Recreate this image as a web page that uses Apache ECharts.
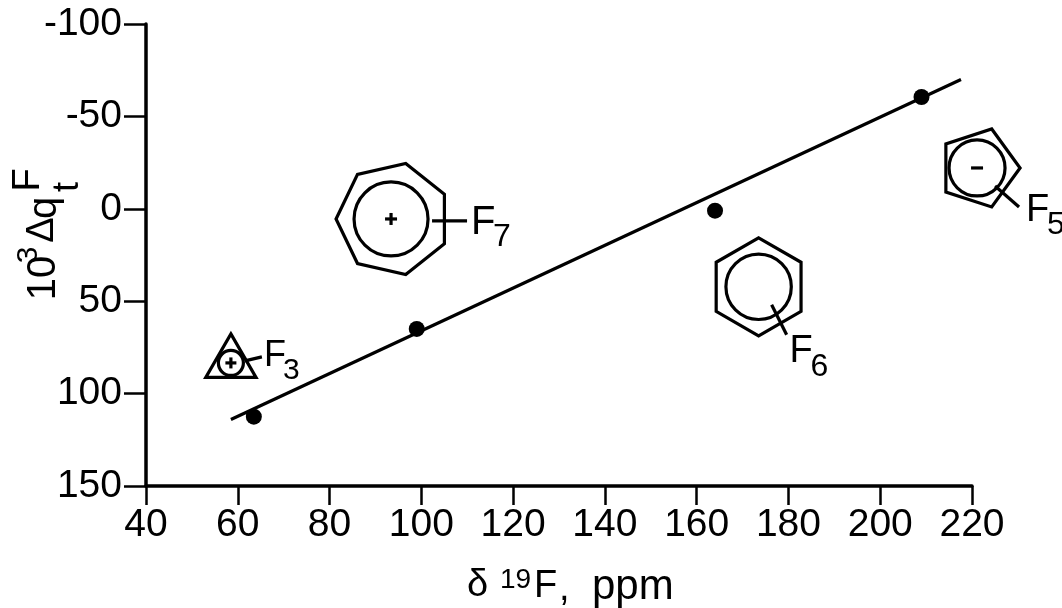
<!DOCTYPE html>
<html><head><meta charset="utf-8">
<style>html,body{margin:0;padding:0;background:#fff}#c{width:1062px;height:608px}</style>
<script src="https://cdn.jsdelivr.net/npm/echarts@6/dist/echarts.min.js"></script>
</head><body><div id="c"></div>
<script>
const xTicks=[40,60,80,100,120,140,160,180,200,220];
const yTicks=[-100,-50,0,50,100,150];
const points=[[63.5,112.5],[99,65],[164,1],[209,-60.5]];
const fitLine=[[58.5,114],[217.6,-70]];
const ringCenters=[[58.5,83.4],[93.4,5.5],[173.5,42.2],[221.1,-22.1]];
const ringNames=['F3','F7','F6','F5'];
const ringSides=[3,7,6,5];
// pixel styling of each ring glyph (not data)
const glyph={
 F3:{R:29,dx:0,r:12.5,rot:-90,lead:[[14,-2],[31,-6]],cross:5.5,f:[33,-7,36],s:[52,8,30]},
 F7:{R:57,dx:2,r:37,rot:180,lead:[[41,2],[76,2]],cross:6,f:[80,4,40],s:[102,18,32]},
 F6:{R:49,dx:0,r:32.7,rot:-90,lead:[[13,18],[28,48]],f:[31,65,38],s:[52,80,32]},
 F5:{R:41,dx:2,r:28,rot:0,lead:[[18,18],[42,39]],dash:6,f:[49,43,38],s:[70,57,32]}
};
const ink='#000';
const face='"Liberation Sans"';
const chart=echarts.init(document.getElementById('c'),null,{renderer:'canvas'});
function renderRing(p,api){
 const i=p.dataIndex,name=ringNames[i],g=glyph[name],c=api.coord([api.value(0),api.value(1)]);
 const cx=c[0],cy=c[1],pts=[],n=ringSides[i];
 for(let k=0;k<n;k++){const a=(g.rot+k*360/n)*Math.PI/180;pts.push([cx+g.dx+g.R*Math.cos(a),cy+g.R*Math.sin(a)]);}
 const st={stroke:ink,lineWidth:3.2,fill:null};
 const kids=[
  {type:'polygon',shape:{points:pts},style:st},
  {type:'circle',shape:{cx,cy,r:g.r},style:st},
  {type:'line',shape:{x1:cx+g.lead[0][0],y1:cy+g.lead[0][1],x2:cx+g.lead[1][0],y2:cy+g.lead[1][1]},style:st}
 ];
 if(g.cross)kids.push({type:'line',shape:{x1:cx-g.cross,y1:cy,x2:cx+g.cross,y2:cy},style:st},{type:'line',shape:{x1:cx,y1:cy-g.cross,x2:cx,y2:cy+g.cross},style:st});
 if(g.dash)kids.push({type:'line',shape:{x1:cx-g.dash,y1:cy,x2:cx+g.dash,y2:cy},style:st});
 kids.push({type:'text',x:cx+g.f[0],y:cy+g.f[1],style:{text:'F',fontSize:g.f[2],fontFamily:face,fill:ink,align:'left',verticalAlign:'middle'}});
 kids.push({type:'text',x:cx+g.s[0],y:cy+g.s[1],style:{text:name[1],fontSize:g.s[2],fontFamily:face,fill:ink,align:'left',verticalAlign:'middle'}});
 return {type:'group',children:kids};
}
function rot(text,x,y,size){return {type:'text',x,y,rotation:Math.PI/2,style:{text,fontSize:size,fontFamily:face,fill:ink,align:'center',verticalAlign:'middle'}};}
function flat(text,x,y,size,fam){return {type:'text',x,y,style:{text,fontSize:size,fontFamily:fam||face,fill:ink,align:'left',verticalAlign:'middle'}};}
chart.setOption({
 animation:false,
 backgroundColor:'#fff',
 grid:{left:146,top:24,right:90,bottom:122},
 xAxis:{type:'value',min:40,max:220,interval:20,
  axisLine:{onZero:false,lineStyle:{color:ink,width:3.5}},
  axisTick:{inside:false,length:19,lineStyle:{color:ink,width:2.5}},
  axisLabel:{fontSize:39,fontFamily:face,color:ink,margin:20,customValues:xTicks},
  splitLine:{show:false}},
 yAxis:{type:'value',inverse:true,min:-100,max:150,interval:50,
  axisLine:{onZero:false,lineStyle:{color:ink,width:3.5}},
  axisTick:{inside:false,length:22,lineStyle:{color:ink,width:2.5}},
  axisLabel:{fontSize:39,fontFamily:face,color:ink,margin:24,padding:[4,0,0,0],customValues:yTicks},
  splitLine:{show:false}},
 graphic:[
  rot('10',44,278,40),rot('3',29,255,30),rot('Δ',43,230,38),rot('q',45,208,40),rot('F',29,180,38),rot('t',68,187,36),
  flat('δ',467,586,38),flat('19',500,580,28),flat('F',534,587,38),flat(',',559,590,38),flat('ppm',592,587,42)
 ],
 series:[
  {type:'line',data:fitLine,symbol:'none',lineStyle:{color:ink,width:3.2},z:2},
  {type:'scatter',data:points,symbol:'circle',symbolSize:16,itemStyle:{color:ink,opacity:1},z:3},
  {type:'custom',data:ringCenters,renderItem:renderRing,clip:false,z:4}
 ]
});
</script></body></html>
